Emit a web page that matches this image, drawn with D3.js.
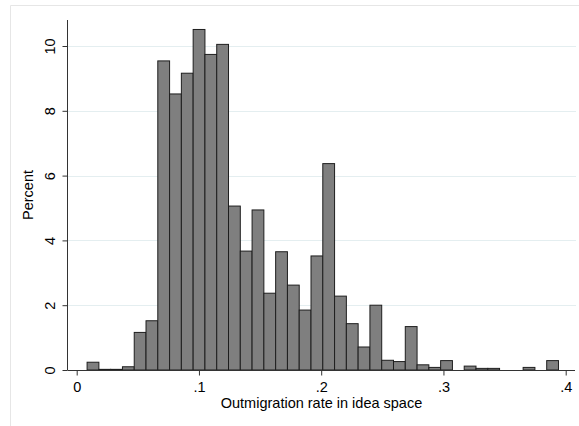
<!DOCTYPE html>
<html>
<head>
<meta charset="utf-8">
<script src="https://cdn.jsdelivr.net/npm/d3@7"></script>
<style>
  html, body { margin: 0; padding: 0; background: #fff; }
  svg { display: block; font-family: "Liberation Sans", Arial, Helvetica, sans-serif; }
</style>
</head>
<body>
<svg id="chart" width="579" height="426"></svg>
<script>
// ---- data ----
const binStart = 0.0085;     // lower edge of first bin
const binWidth = 0.00964;    // width of each bin
const percents = [0.24, 0.02, 0.02, 0.1, 1.16, 1.52, 9.54, 8.52, 9.16, 10.51,
                  9.74, 10.05, 5.06, 3.67, 4.94, 2.37, 3.65, 2.62, 1.85, 3.52,
                  6.37, 2.28, 1.43, 0.71, 2.0, 0.3, 0.26, 1.34, 0.16, 0.08,
                  0.29, 0, 0.12, 0.05, 0.05, 0, 0, 0.08, 0, 0.29];
const xTicks = [0, 0.1, 0.2, 0.3, 0.4];
const xTickLabels = ["0", ".1", ".2", ".3", ".4"];
const yTicks = [0, 2, 4, 6, 8, 10];
const yTickLabels = ["0", "2", "4", "6", "8", "10"];
const xTitle = "Outmigration rate in idea space";
const yTitle = "Percent";

const bins = percents.map((p, i) => ({x0: binStart + i * binWidth, x1: binStart + (i + 1) * binWidth, p}));

// ---- layout ----
const svg = d3.select("#chart");
const fs = 14.5;
const plotLeft = 68, plotRight = 575, plotTop = 20, plotBottom = 370;
const x = d3.scaleLinear().domain([0, 0.4]).range([76.7, 565.7]);
const y = d3.scaleLinear().domain([0, 10]).range([370, 46]);

// outer frame
svg.append("path")
  .attr("d", "M10.5,426 L10.5,5.5 L579,5.5")
  .attr("fill", "none").attr("stroke", "#e6e6e6").attr("stroke-width", 1);

// gridlines
svg.append("g").selectAll("line")
  .data(yTicks.filter(d => d > 0))
  .join("line")
  .attr("x1", plotLeft).attr("x2", plotRight + 1)
  .attr("y1", d => Math.round(y(d)) + 0.5).attr("y2", d => Math.round(y(d)) + 0.5)
  .attr("stroke", "#e4eef0").attr("stroke-width", 1);

// bars
svg.append("g").selectAll("rect")
  .data(bins)
  .join("rect")
  .attr("x", d => x(d.x0))
  .attr("width", d => x(d.x1) - x(d.x0))
  .attr("y", d => y(d.p))
  .attr("height", d => y(0) - y(d.p))
  .attr("fill", "#7f7f7f")
  .attr("stroke", "#1e1e1e")
  .attr("stroke-width", 1);

// x axis
const xAxis = d3.axisBottom(x)
  .tickValues(xTicks)
  .tickFormat((d, i) => xTickLabels[i])
  .tickSize(5).tickPadding(6).tickSizeOuter(0);
const gx = svg.append("g").attr("transform", "translate(0,370.5)").call(xAxis);
gx.select(".domain").remove();
gx.append("line").attr("x1", plotLeft).attr("x2", plotRight).attr("y1", 0).attr("y2", 0)
  .attr("stroke", "#333").attr("stroke-width", 1);
gx.selectAll(".tick line").attr("stroke", "#333");
gx.selectAll(".tick text").attr("font-size", fs).attr("fill", "#000")
  .attr("font-family", "Liberation Sans, Arial, sans-serif");

// y axis
const yAxis = d3.axisLeft(y)
  .tickValues(yTicks)
  .tickFormat((d, i) => yTickLabels[i])
  .tickSize(5).tickSizeOuter(0);
const gy = svg.append("g").attr("transform", "translate(67.5,0)").call(yAxis);
gy.select(".domain").remove();
gy.append("line").attr("x1", 0).attr("x2", 0).attr("y1", plotTop).attr("y2", 370.5)
  .attr("stroke", "#333").attr("stroke-width", 1);
gy.selectAll(".tick line").attr("stroke", "#333");
gy.selectAll(".tick text")
  .attr("x", null).attr("dy", null)
  .attr("font-size", fs).attr("fill", "#000")
  .attr("font-family", "Liberation Sans, Arial, sans-serif")
  .attr("text-anchor", "middle")
  .attr("transform", "translate(-12.5,0) rotate(-90)");

// titles
svg.append("text")
  .attr("x", (plotLeft + plotRight) / 2).attr("y", 408)
  .attr("text-anchor", "middle").attr("font-size", fs).attr("fill", "#000")
  .text(xTitle);
svg.append("text")
  .attr("transform", `translate(33,${(plotTop + 370) / 2}) rotate(-90)`)
  .attr("text-anchor", "middle").attr("font-size", fs).attr("fill", "#000")
  .text(yTitle);
</script>
</body>
</html>
